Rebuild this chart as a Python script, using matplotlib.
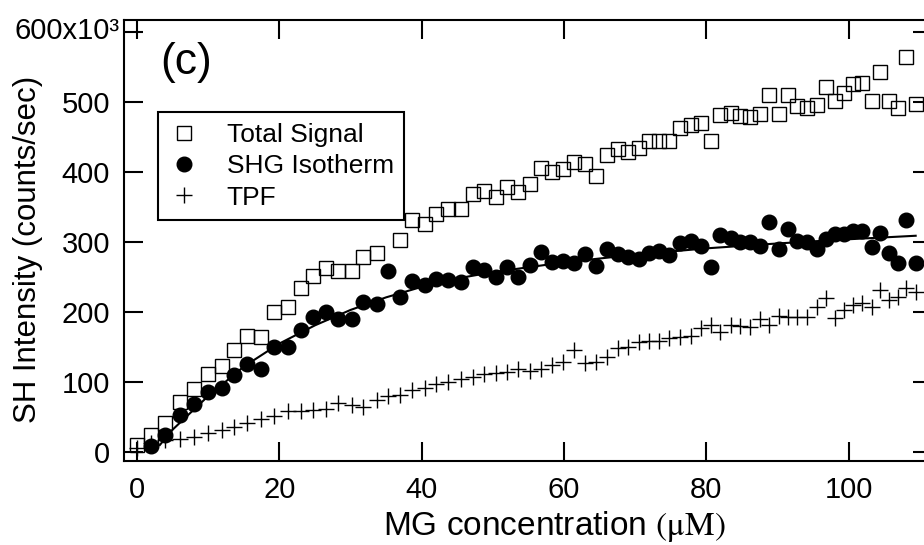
import matplotlib.pyplot as plt
import matplotlib.transforms as mtransforms
import numpy as np

plt.rcParams['font.family'] = ['Liberation Sans', 'DejaVu Sans']
plt.rcParams['mathtext.fontset'] = 'stix'

# MG concentration (uM) for each measurement
conc = [0, 2, 4, 6, 8, 10, 12, 13.6, 15.5, 17.4, 19.3, 21.2, 23, 24.7, 26.5, 28.3,
        30.2, 31.8, 33.7, 35.3, 37, 38.7, 40.4, 42, 43.7, 45.5, 47.2, 48.7, 50.4,
        52, 53.5, 55.2, 56.7, 58.3, 59.8, 61.4, 62.9, 64.5, 66, 67.6, 69, 70.5,
        71.9, 73.3, 74.8, 76.3, 77.8, 79.2, 80.6, 81.9, 83.4, 84.7, 86.1, 87.5,
        88.8, 90.2, 91.4, 92.7, 94.1, 95.5, 96.8, 98, 99.3, 100.6, 101.9, 103.2,
        104.4, 105.6, 106.9, 108.1, 109.4]

# intensities in units of 10^3 counts/sec
total = [10, 24, 41, 71, 90, 111, 123, 146, 166, 165, 200, 207, 234, 251, 263, 259,
         259, 279, 284, np.nan, 303, 331, 326, 340, 347, 347, 369, 373, 364,
         379, 371, 383, 406, 400, 404, 415, 411, 394, 424, 433, 429, 434,
         444, 444, 444, 463, 467, 470, 444, 481, 484, 480, 478, 483,
         510, 483, 510, 494, 491, 496, 521, 501, 513, 526, 527, 501,
         543, 501, 491, 564, 497]

shg = [np.nan, 9, 24, 53, 68, 86, 91, 110, 126, 118, 150, 150, 175, 193, 200, 190,
       190, 214, 211, 259, 221, 244, 238, 247, 246, 243, 264, 260, 250,
       264, 250, 267, 286, 271, 273, 270, 283, 266, 290, 283, 279, 276,
       284, 287, 281, 299, 301, 294, 264, 310, 306, 300, 300, 294,
       329, 290, 319, 301, 300, 290, 304, 311, 311, 316, 316, 293,
       313, 284, 270, 331, 270]

tpf = [6, 13, 17, 18, 22, 27, 32, 36, 41, 47, 52, 58, 58, 60, 62, 70,
       67, 65, 74, 80, 82, 88, 92, 97, 100, 104, 107, 112, 113,
       115, 119, 116, 118, 125, 128, 146, 127, 128, 136, 149, 150, 157,
       158, 159, 163, 164, 166, 177, 181, 171, 181, 180, 179, 190,
       181, 194, 193, 193, 193, 207, 220, 191, 203, 210, 213, 207,
       231, 217, 221, 234, 229]

# isotherm fit curve
fit_x = [3.2, 5, 10, 15, 20, 25, 30, 35, 40, 45, 50, 60, 70, 80, 90, 100, 109.4]
fit_y = [10, 32, 80, 122, 155, 181, 203, 221, 236, 248, 257, 271, 282, 291, 298, 304, 309]

fig = plt.figure(figsize=(9.24, 5.45), dpi=100)
ax = fig.add_axes([0.1342, 0.154, 0.8745, 0.809])

ax.plot(conc, total, 's', ms=10, mfc='none', mec='black', mew=1.0, label='Total Signal', zorder=2)
ax.plot(conc, shg, 'o', ms=10.5, color='black', label='SHG Isotherm', zorder=3)
ax.plot(conc, tpf, '+', ms=11, color='black', mew=1.0, label='TPF', zorder=3)
ax.plot(fit_x, fit_y, '-', color='black', lw=1.5, zorder=4)

ax.set_xlim(-1.83, 111.7)
ax.set_ylim(-12.9, 617)
ax.set_xticks([0, 20, 40, 60, 80, 100])
ax.set_yticks([0, 100, 200, 300, 400, 500, 600])
ax.set_yticklabels(['0', '100', '200', '300', '400', '500', '600x10\u00b3'])
ax.tick_params(direction='in', length=14, width=1.5, top=True, right=True,
               labelsize=21, pad=10)
ax.tick_params(axis='x', pad=11)
for s in ax.spines.values():
    s.set_linewidth(1.5)

# the exponent of the top label sticks out past the other labels
top_lab = ax.get_yticklabels()[-1]
top_lab.set_transform(top_lab.get_transform() +
                      mtransforms.ScaledTranslation(0.1, 0.04, fig.dpi_scale_trans))

ax.set_xlabel('MG concentration $\\mathrm{(\u03bcM)}$', fontsize=24)
ax.xaxis.set_label_coords(0.532, -0.108)
ax.set_ylabel('SH Intensity (counts/sec)', fontsize=22.5)
ax.yaxis.set_label_coords(-0.1, 0.48)

ax.text(0.045, 0.905, '(c)', transform=ax.transAxes, fontsize=32, va='center', ha='left')

leg = ax.legend(loc='upper left', bbox_to_anchor=(0.042, 0.791), borderaxespad=0,
                fontsize=19, fancybox=False, framealpha=1, edgecolor='black',
                handlelength=1.2, handletextpad=1.0, labelspacing=0.28,
                borderpad=0.4, numpoints=1)
leg.get_frame().set_linewidth(1.5)

fig.savefig('out.png', dpi=100)
